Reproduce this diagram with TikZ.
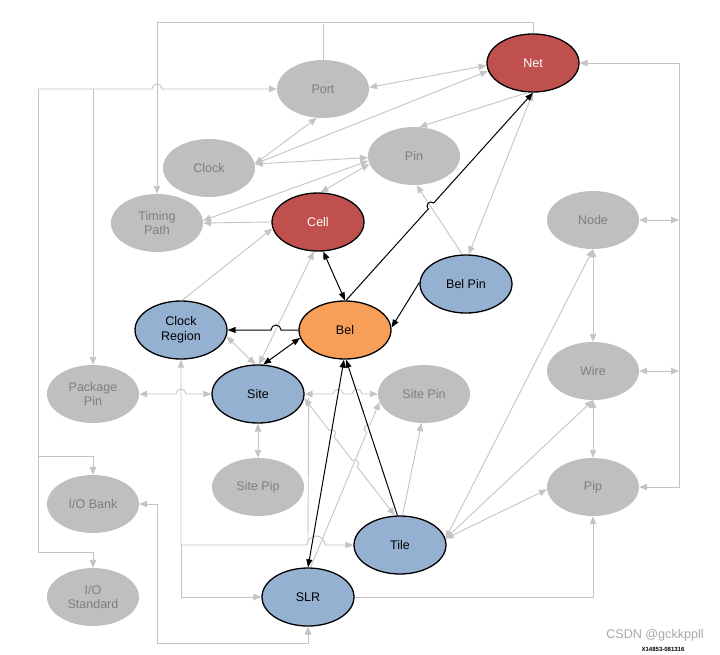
\documentclass[tikz,border=0pt]{standalone}
\usepackage{fontspec}
\setmainfont{Liberation Sans}
\usetikzlibrary{shapes.geometric,arrows.meta,calc}
\definecolor{ngray}{HTML}{BFBFBF}
\definecolor{tgray}{HTML}{7F7F7F}
\definecolor{lgray}{HTML}{C4C4C4}
\definecolor{nred}{HTML}{C0504D}
\definecolor{nblue}{HTML}{95B1D2}
\definecolor{norange}{HTML}{F79E58}
\definecolor{wmgray}{HTML}{A8A8A8}
\begin{document}
\begin{tikzpicture}[x=1pt,y=-1pt,
  base/.style={ellipse, minimum width=92pt, minimum height=58pt, inner sep=0pt, align=center, font=\fontsize{12.5}{14.5}\selectfont},
  gnode/.style={base, fill=ngray, text=tgray},
  rnode/.style={base, fill=nred, draw=black, line width=1.3pt, text=white},
  bnode/.style={base, fill=nblue, draw=black, line width=1.3pt, text=black},
  onode/.style={base, fill=norange, draw=black, line width=1.3pt, text=black},
  gl/.style={draw=lgray, line width=0.9pt},
  ga/.style={gl, -{Triangle[length=8pt,width=6.5pt]}},
  gb/.style={gl, {Triangle[length=8pt,width=6.5pt]}-{Triangle[length=8pt,width=6.5pt]}},
  bl/.style={draw=black, line width=1pt},
  ba/.style={bl, -{Triangle[length=8pt,width=6pt]}},
  bb/.style={bl, {Triangle[length=8pt,width=6pt]}-{Triangle[length=8pt,width=6pt]}},
]
\useasboundingbox (0,0) rectangle (720,654);

% nodes
\node[rnode] (net) at (533,63) {Net};
\node[gnode] (port) at (323,89) {Port};
\node[gnode] (clock) at (209,168) {Clock};
\node[gnode] (pin) at (414,156) {Pin};
\node[gnode] (tp) at (157,223) {Timing\\Path};
\node[rnode] (cell) at (318,222) {Cell};
\node[gnode] (nodeN) at (593,220) {Node};
\node[bnode] (belpin) at (466,284) {Bel Pin};
\node[bnode] (cr) at (181,330) {Clock\\Region};
\node[onode] (bel) at (345,330) {Bel};
\node[gnode] (pkg) at (93,394) {Package\\Pin};
\node[bnode] (site) at (258,394) {Site};
\node[gnode] (sitepin) at (424,394) {Site Pin};
\node[gnode] (wire) at (593,371) {Wire};
\node[gnode] (sitepip) at (258,487) {Site Pip};
\node[gnode] (iobank) at (93,504) {I/O Bank};
\node[gnode] (pip) at (593,487) {Pip};
\node[bnode] (tile) at (400,545) {Tile};
\node[gnode] (iostd) at (93,597) {I/O\\Standard};
\node[bnode] (slr) at (308,597) {SLR};

% top loop
\draw[ga] (net.north) -- ++(0,-11) -| (tp.north);
\draw[gl] (port.north) -- (port.north |- 0,24);

% left trunk
\coordinate (lt) at (38,89);
\draw[ga] (lt) -- (152,89) arc[start angle=180, end angle=0, radius=5pt] -- (port.west);
\draw[ga] (lt -| pkg.north) -- (pkg.north);
\draw[gl] (lt) -- (38,552);
\draw[ga] (38,456) -| (iobank.north);
\draw[ga] (38,552) -| (iostd.north);

% port / clock / pin / net
\draw[gb] (port.-102) -- (clock.5);
\draw[gb] (net.183) -- (port.2);
\draw[gb] (net.190) -- (clock.5);
\draw[gb] (pin.182) -- (clock.5);
\draw[gb] (pin.186) -- (tp.3);
\draw[gb] (pin.190) -- (cell.85);
\draw[ga] (cell.west) -- (tp.east);
\draw[ga] (net.-100) -- (pin.80);
\draw[gb] (net.-90) -- (belpin.85);
\draw[ga] (belpin.97) -- (pin.-85);

% right bus
\coordinate (bus) at (679,0);
\draw[gb] (net.east) -- ++(100,0) |- (pip.east);
\draw[gb] (nodeN.east) -- (nodeN.east -| bus);
\draw[gb] (wire.east) -- (wire.east -| bus);
\draw[gb] (nodeN.south) -- (wire.north);
\draw[gb] (wire.south) -- (pip.north);
\draw[gb] (tile.8) -- (nodeN.south);
\draw[gb] (tile.8) -- (wire.south);
\draw[gb] (tile.8) -- (pip.183);
\draw[ga] (slr.east) -| (pip.south);

% bottom left
\draw[gb] (iobank.east) -| (157,643) -| (slr.south);

% site area
\draw[gb] (pkg.east) -- (176,394) arc[start angle=180, end angle=0, radius=5pt] -- (site.west);
\draw[gb] (site.south) -- (sitepip.north);
\draw[gb] (site.east) -- (333,394) arc[start angle=180, end angle=0, radius=5pt] -- (352,394) arc[start angle=180, end angle=0, radius=5pt] -- (sitepin.west);
\draw[gb] (cr.south) -- (181,545) -- (307,545) arc[start angle=180, end angle=0, radius=9pt] -- (tile.west);
\draw[ga] (181,545) |- (slr.west);
\draw[gl] ($(site.east)+(4,4)$) -- (308,541);

\draw[gb] (site.88) -- (cell.-98);
\draw[gb] (cr.-8) -- (site.95);
\draw[ga] (cr.88) -- (cell.188);

\coordinate (h1) at ($(site.-5)!(331,434)!(tile.100)$);
\coordinate (h2) at ($(site.-5)!(354,464)!(tile.100)$);
\draw[gb] (site.-5) -- ($(h1)!4pt!(site.-5)$) let \p1=($(site.-5)-(h1)$) in
  arc[start angle={atan2(\y1,\x1)}, delta angle=-180, radius=4pt]
  -- ($(h2)!4pt!(site.-5)$) arc[start angle={atan2(\y1,\x1)}, delta angle=-180, radius=4pt]
  -- (tile.100);

\draw[ga] (tile.85) -- (sitepin.-95);

\coordinate (h3) at ($(slr.85)!(369,429)!(sitepin.190)$);
\draw[ga] (slr.85) -- ($(h3)!4pt!(slr.85)$) let \p1=($(slr.85)-(h3)$) in
  arc[start angle={atan2(\y1,\x1)}, delta angle=-180, radius=4pt] -- (sitepin.190);

% black connectors
\draw[bb] (cell.-80) -- (bel.north);
\coordinate (h4) at ($(bel.88)!(431,206)!(net.-90)$);
\draw[ba] (bel.88) -- ($(h4)!4pt!(bel.88)$) let \p1=($(bel.88)-(h4)$) in
  arc[start angle={atan2(\y1,\x1)}, delta angle=-180, radius=4pt] -- (net.-90);
\draw[ba] (belpin.178) -- (bel.3);
\draw[ba] (bel.west) -- (281,330) arc[start angle=0, end angle=180, radius=5pt] -- (cr.east);
\draw[bb] (bel.190) -- (site.80);
\draw[bb] (bel.-92) -- (slr.north);
\draw[ba] (tile.95) -- (bel.-88);

% watermark
\node[text=wmgray, font=\fontsize{12.6}{14}\selectfont, inner sep=0pt] (wm) at (655,635) {CSDN @gckkppll};
\node[font=\fontsize{6}{7}\selectfont\bfseries, inner sep=0pt] (xid) at (663,649) {X14853-081316};
\end{tikzpicture}
\end{document}
